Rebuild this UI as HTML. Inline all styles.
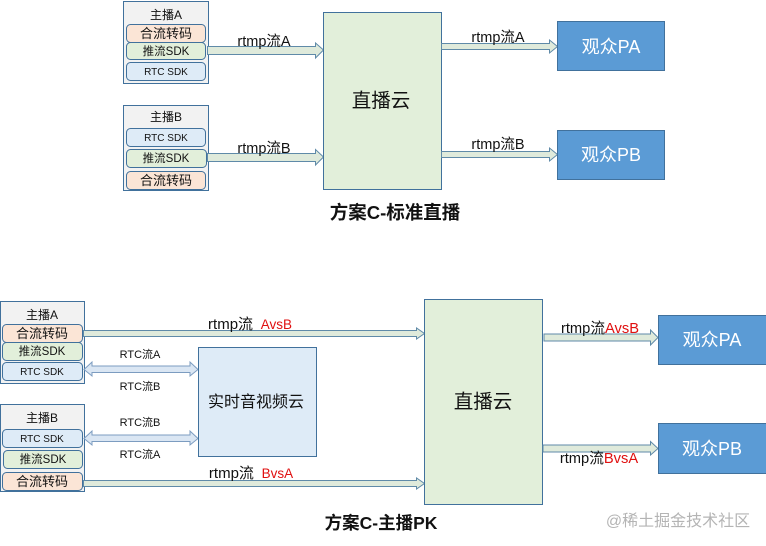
<!DOCTYPE html>
<html><head><meta charset="utf-8"><style>
html,body{margin:0;padding:0;background:#fff}
svg{display:block}
text{font-family:"Liberation Sans","Noto Sans CJK SC",sans-serif;text-anchor:middle;fill:#111}
.o{fill:#f2f2f2;stroke:#41719c;stroke-width:1}
.r{fill:#fbe5d6;stroke:#41719c;stroke-width:1}
.g{fill:#e2efda;stroke:#41719c;stroke-width:1}
.b{fill:#deebf7;stroke:#41719c;stroke-width:1}
.c{fill:#e2efda;stroke:#41719c;stroke-width:1}
.v{fill:#5b9bd5;stroke:#41719c;stroke-width:1}
.a{fill:#dfeadb;stroke:#5f8aa8;stroke-width:1}
.d{fill:#dae6f3;stroke:#7c9cc0;stroke-width:1}
</style></head><body>
<svg width="766" height="546" viewBox="0 0 766 546" xmlns="http://www.w3.org/2000/svg">
<rect class="o" x="123.5" y="1.5" width="85" height="82"/>
<text x="166" y="19" font-size="12">主播A</text>
<rect class="r" x="126.5" y="24.5" width="79" height="18" rx="4"/>
<text x="166" y="38" font-size="13">合流转码</text>
<rect class="g" x="126.5" y="42.5" width="79" height="17" rx="4"/>
<text x="166" y="55" font-size="11.5">推流SDK</text>
<rect class="b" x="126.5" y="62.5" width="79" height="18" rx="4"/>
<text x="166" y="75" font-size="10">RTC SDK</text>
<rect class="o" x="123.5" y="105.5" width="85" height="85"/>
<text x="166" y="121" font-size="12">主播B</text>
<rect class="b" x="126.5" y="128.5" width="79" height="18" rx="4"/>
<text x="166" y="141" font-size="10">RTC SDK</text>
<rect class="g" x="126.5" y="149.5" width="80" height="18" rx="4"/>
<text x="166" y="162" font-size="11.5">推流SDK</text>
<rect class="r" x="126.5" y="171.5" width="79" height="18" rx="4"/>
<text x="166" y="185" font-size="13">合流转码</text>

<polygon class="a" points="207.5,46.5 315.5,46.5 315.5,43 323.5,50 315.5,58 315.5,54.5 207.5,54.5"/>
<polygon class="a" points="207.5,153.5 315.5,153.5 315.5,149.5 323.5,157 315.5,165 315.5,161.5 207.5,161.5"/>
<text x="264" y="46" font-size="14.5">rtmp流A</text>
<text x="264" y="153" font-size="14.5">rtmp流B</text>

<rect class="c" x="323.5" y="12.5" width="118" height="177"/>
<text x="381" y="107" font-size="19.5">直播云</text>
<polygon class="a" points="441.5,43.5 549.5,43.5 549.5,40 557.5,46.5 549.5,53 549.5,49.5 441.5,49.5"/>
<polygon class="a" points="441.5,151.5 549.5,151.5 549.5,148 557.5,154.5 549.5,161 549.5,157.5 441.5,157.5"/>
<text x="498" y="42" font-size="14.5">rtmp流A</text>
<text x="498" y="149" font-size="14.5">rtmp流B</text>
<rect class="v" x="557.5" y="21.5" width="107" height="49"/>
<rect class="v" x="557.5" y="130.5" width="107" height="49"/>
<text x="611" y="53" font-size="18" style="fill:#fff">观众PA</text>
<text x="611" y="161" font-size="18" style="fill:#fff">观众PB</text>
<text x="395" y="219" font-size="18.5" font-weight="bold">方案C-标准直播</text>

<rect class="o" x="0.5" y="301.5" width="84" height="82"/>
<text x="42" y="319" font-size="12">主播A</text>
<rect class="r" x="2.5" y="324.5" width="80" height="18" rx="4"/>
<text x="42" y="338" font-size="13">合流转码</text>
<rect class="g" x="2.5" y="342.5" width="80" height="18" rx="4"/>
<text x="42" y="355" font-size="11.5">推流SDK</text>
<rect class="b" x="2.5" y="362.5" width="80" height="18" rx="4"/>
<text x="42" y="375" font-size="10">RTC SDK</text>
<rect class="o" x="0.5" y="404.5" width="84" height="87"/>
<text x="42" y="422" font-size="12">主播B</text>
<rect class="b" x="2.5" y="429.5" width="80" height="18" rx="4"/>
<text x="42" y="442" font-size="10">RTC SDK</text>
<rect class="g" x="3.5" y="450.5" width="79" height="18" rx="4"/>
<text x="43" y="463" font-size="11.5">推流SDK</text>
<rect class="r" x="2.5" y="472.5" width="80" height="18" rx="4"/>
<text x="42" y="486" font-size="13">合流转码</text>

<polygon class="a" points="83.5,330.5 416.5,330.5 416.5,328 424.5,333.5 416.5,339 416.5,336.5 83.5,336.5"/>
<polygon class="a" points="83.5,480.5 416.5,480.5 416.5,478 424.5,483.5 416.5,489 416.5,486.5 83.5,486.5"/>
<text x="250" y="329" font-size="15">rtmp流 <tspan dx="3.5" font-size="13.5" style="fill:#e01010">AvsB</tspan></text>
<text x="251" y="478" font-size="15">rtmp流 <tspan dx="3.5" font-size="13.5" style="fill:#e01010">BvsA</tspan></text>

<polygon class="d" points="84,369.5 92,362 92,366 190,366 190,362 198,369.5 190,376 190,372.5 92,372.5 92,376"/>
<polygon class="d" points="84,438.5 92,431 92,435 190,435 190,431 198,438.5 190,445 190,441.5 92,441.5 92,445"/>
<text x="140" y="358" font-size="11">RTC流A</text>
<text x="140" y="390" font-size="11">RTC流B</text>
<text x="140" y="426" font-size="11">RTC流B</text>
<text x="140" y="458" font-size="11">RTC流A</text>

<rect x="198.5" y="347.5" width="118" height="109" fill="#deebf7" stroke="#41719c"/>
<text x="256" y="407" font-size="16">实时音视频云</text>

<rect class="c" x="424.5" y="299.5" width="118" height="205"/>
<text x="483" y="408" font-size="19.5">直播云</text>
<polygon class="a" points="544,334 650.5,334 650.5,330 658,337.5 650.5,345 650.5,341 544,341"/>
<polygon class="a" points="543,445 650.5,445 650.5,441.5 658,448.5 650.5,455 650.5,452 543,452"/>
<text x="600" y="333" font-size="14.7">rtmp流<tspan style="fill:#e01010">AvsB</tspan></text>
<text x="599" y="463" font-size="14.7">rtmp流<tspan style="fill:#e01010">BvsA</tspan></text>
<rect class="v" x="658.5" y="315.5" width="108" height="49"/>
<rect class="v" x="658.5" y="423.5" width="108" height="50"/>
<text x="712" y="346" font-size="18" style="fill:#fff">观众PA</text>
<text x="712" y="455" font-size="18" style="fill:#fff">观众PB</text>
<text x="381" y="529" font-size="17.5" font-weight="bold">方案C-主播PK</text>
<text x="678" y="526" font-size="16" style="fill:#b4b4b4">@稀土掘金技术社区</text>
</svg>
</body></html>
